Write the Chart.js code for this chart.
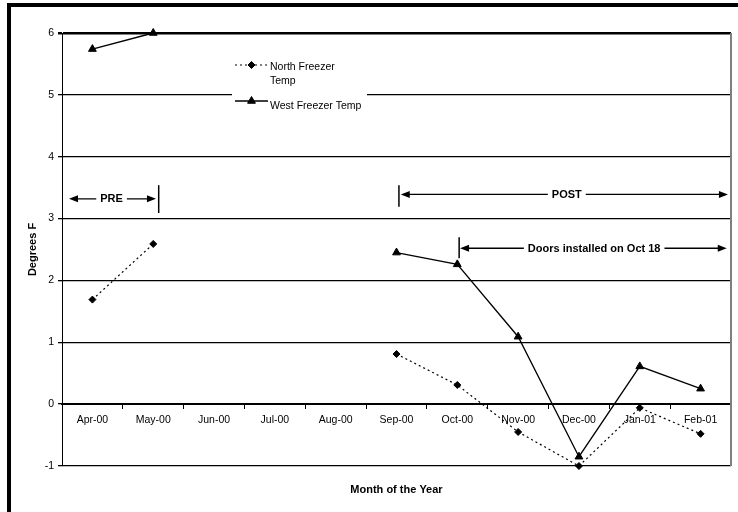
<!DOCTYPE html>
<html>
<head>
<meta charset="utf-8">
<title>Freezer Temperatures</title>
<script src="https://cdn.jsdelivr.net/npm/chart.js@4.4.1/dist/chart.umd.min.js"></script>
<style>
    html, body { margin: 0; padding: 0; background: #fff; }
    canvas { display: block; }
</style>
</head>
<body>
<canvas id="freezerChart" width="738" height="512"></canvas>
<script>
// --- data ---
const MONTHS = ['Apr-00', 'May-00', 'Jun-00', 'Jul-00', 'Aug-00', 'Sep-00',
                'Oct-00', 'Nov-00', 'Dec-00', 'Jan-01', 'Feb-01'];
const NORTH_TEMPS = [1.69, 2.59, null, null, null, 0.81, 0.31, -0.45, -1.0, -0.06, -0.48];
const WEST_TEMPS  = [5.74, 6.0, null, null, null, 2.45, 2.26, 1.09, -0.85, 0.61, 0.25];
const SERIES_NAMES = ['North Freezer Temp', 'West Freezer Temp'];
const LEGEND_LINES = [['North Freezer', 'Temp'], ['West Freezer Temp']];
const Y_TICKS = [-1, 0, 1, 2, 3, 4, 5, 6];

const FONT = "'Liberation Sans', Arial, sans-serif";

// period markers, in axis units (category index / degrees)
const NOTES = [
    { text: 'PRE',  y: 3.32, bar: 1.09, span: [3.54, 3.09], from: -0.385, to: 1.045, textAt: 0.315 },
    { text: 'POST', y: 3.39, bar: 5.04, span: [3.54, 3.19], from: 5.07,  to: 10.45, textAt: 7.80 },
    { text: 'Doors installed on Oct 18', y: 2.52, bar: 6.03, span: [2.70, 2.36], from: 6.045, to: 10.43, textAt: 8.25 }
];

Chart.defaults.font.family = FONT;
Chart.defaults.color = '#000';

function arrowHead(ctx, x, y, dir) {
    ctx.beginPath();
    ctx.moveTo(x, y);
    ctx.lineTo(x - dir * 9, y - 3.5);
    ctx.lineTo(x - dir * 9, y + 3.5);
    ctx.closePath();
    ctx.fill();
}

const pageFrame = {
    id: 'pageFrame',
    beforeDraw(chart) {
        const { ctx, width, height } = chart;
        ctx.save();
        ctx.fillStyle = '#fff';
        ctx.fillRect(0, 0, width, height);
        ctx.fillStyle = '#000';
        ctx.fillRect(7, 3, 4, height - 3);
        ctx.fillRect(7, 3, width - 7, 4);
        ctx.restore();
    },
    beforeDatasetsDraw(chart) {
        const { ctx, chartArea } = chart;
        ctx.save();
        ctx.strokeStyle = '#7f7f7f';
        ctx.lineWidth = 2;
        ctx.beginPath();
        ctx.moveTo(chartArea.right, chartArea.top);
        ctx.lineTo(chartArea.right, chartArea.bottom);
        ctx.stroke();
        ctx.restore();
    }
};

const periodNotes = {
    id: 'periodNotes',
    afterDatasetsDraw(chart) {
        const { ctx, scales: { x, y } } = chart;
        ctx.save();
        ctx.strokeStyle = '#000';
        ctx.fillStyle = '#000';
        NOTES.forEach(note => {
            const yPx = y.getPixelForValue(note.y);
            const x0 = x.getPixelForValue(note.from);
            const x1 = x.getPixelForValue(note.to);
            const barX = x.getPixelForValue(note.bar);

            ctx.lineWidth = 1.3;
            ctx.beginPath();
            ctx.moveTo(x0 + 4, yPx);
            ctx.lineTo(x1 - 4, yPx);
            ctx.stroke();
            ctx.fillStyle = '#000';
            arrowHead(ctx, x0, yPx, -1);
            arrowHead(ctx, x1, yPx, 1);

            ctx.lineWidth = 1.5;
            ctx.beginPath();
            ctx.moveTo(barX, y.getPixelForValue(note.span[0]));
            ctx.lineTo(barX, y.getPixelForValue(note.span[1]));
            ctx.stroke();

            ctx.font = 'bold 11px ' + FONT;
            ctx.textAlign = 'center';
            ctx.textBaseline = 'middle';
            const tx = x.getPixelForValue(note.textAt);
            const w = ctx.measureText(note.text).width;
            ctx.fillStyle = '#fff';
            ctx.fillRect(tx - w / 2 - 4, yPx - 3, w + 8, 6);
            ctx.fillStyle = '#000';
            ctx.fillText(note.text, tx, yPx + 0.5);
        });
        ctx.restore();
    }
};

const boxLegend = {
    id: 'boxLegend',
    afterDatasetsDraw(chart) {
        const { ctx, chartArea } = chart;
        const left = chartArea.left + 170;
        const top = chartArea.top;
        ctx.save();
        ctx.fillStyle = '#fff';
        ctx.fillRect(left, top + 19, 135, 62);

        const rows = [
            { lineY: top + 32, textY: [top + 34, top + 48] },
            { lineY: top + 68, textY: [top + 73.5] }
        ];
        chart.data.datasets.forEach((ds, i) => {
            const row = rows[i];
            ctx.strokeStyle = '#000';
            ctx.fillStyle = '#000';
            ctx.lineWidth = ds.borderWidth;
            ctx.setLineDash(ds.borderDash || []);
            ctx.beginPath();
            ctx.moveTo(left + 3, row.lineY);
            ctx.lineTo(left + 36, row.lineY);
            ctx.stroke();
            ctx.setLineDash([]);
            ctx.lineWidth = 1;
            Chart.helpers.drawPoint(ctx, {
                pointStyle: ds.pointStyle,
                radius: ds.pointRadius,
                borderWidth: 1,
                rotation: 0
            }, left + 19.5, row.lineY);

            ctx.font = '10.5px ' + FONT;
            ctx.textAlign = 'left';
            ctx.textBaseline = 'middle';
            LEGEND_LINES[i].forEach((line, j) => {
                ctx.fillText(line, left + 38, row.textY[j]);
            });
        });
        ctx.restore();
    }
};

const ctx = document.getElementById('freezerChart').getContext('2d');

new Chart(ctx, {
    type: 'line',
    data: {
        labels: MONTHS,
        datasets: [{
            label: SERIES_NAMES[0],
            data: NORTH_TEMPS,
            borderColor: '#000',
            backgroundColor: '#000',
            borderWidth: 1.2,
            borderDash: [2, 3],
            pointStyle: 'rectRot',
            pointRadius: 3.5,
            pointBorderWidth: 1,
            spanGaps: false,
            clip: false,
            tension: 0
        }, {
            label: SERIES_NAMES[1],
            data: WEST_TEMPS,
            borderColor: '#000',
            backgroundColor: '#000',
            borderWidth: 1.3,
            pointStyle: 'triangle',
            pointRadius: 4.5,
            pointBorderWidth: 1,
            spanGaps: false,
            clip: false,
            tension: 0
        }]
    },
    options: {
        responsive: false,
        animation: false,
        layout: {
            padding: { left: 7, right: 7, top: 33, bottom: 0 }
        },
        scales: {
            x: {
                type: 'category',
                position: { y: 0 },
                offset: true,
                grid: {
                    display: true,
                    drawOnChartArea: false,
                    drawTicks: true,
                    tickLength: 4,
                    offset: true,
                    color: '#000',
                    lineWidth: 1
                },
                border: { display: true, color: '#000', width: 2 },
                ticks: {
                    padding: 6,
                    maxRotation: 0,
                    minRotation: 0,
                    autoSkip: false,
                    color: '#000',
                    font: { size: 10.5 }
                }
            },
            y: {
                min: Y_TICKS[0],
                max: Y_TICKS[Y_TICKS.length - 1],
                afterFit(scale) { scale.width = 55; },
                afterBuildTicks(scale) {
                    scale.ticks = Y_TICKS.map(v => ({ value: v }));
                },
                grid: {
                    color: '#000',
                    lineWidth: (c) => (c.tick && c.tick.value === 6 ? 2.5 : 1.3),
                    tickLength: 4,
                    drawTicks: true
                },
                border: { display: true, color: '#000', width: 1 },
                ticks: {
                    padding: 4,
                    color: '#000',
                    font: { size: 10.5 }
                },
                title: {
                    display: true,
                    text: 'Degrees F',
                    color: '#000',
                    font: { size: 11, weight: 'bold' },
                    padding: { top: 19, bottom: 0 }
                }
            }
        },
        plugins: {
            legend: { display: false },
            tooltip: { enabled: false },
            title: {
                display: true,
                text: 'Month of the Year',
                position: 'bottom',
                fullSize: false,
                color: '#000',
                font: { size: 11, weight: 'bold' },
                padding: { top: 17.4, bottom: 15.4 }
            }
        }
    },
    plugins: [pageFrame, periodNotes, boxLegend]
});
</script>
</body>
</html>
